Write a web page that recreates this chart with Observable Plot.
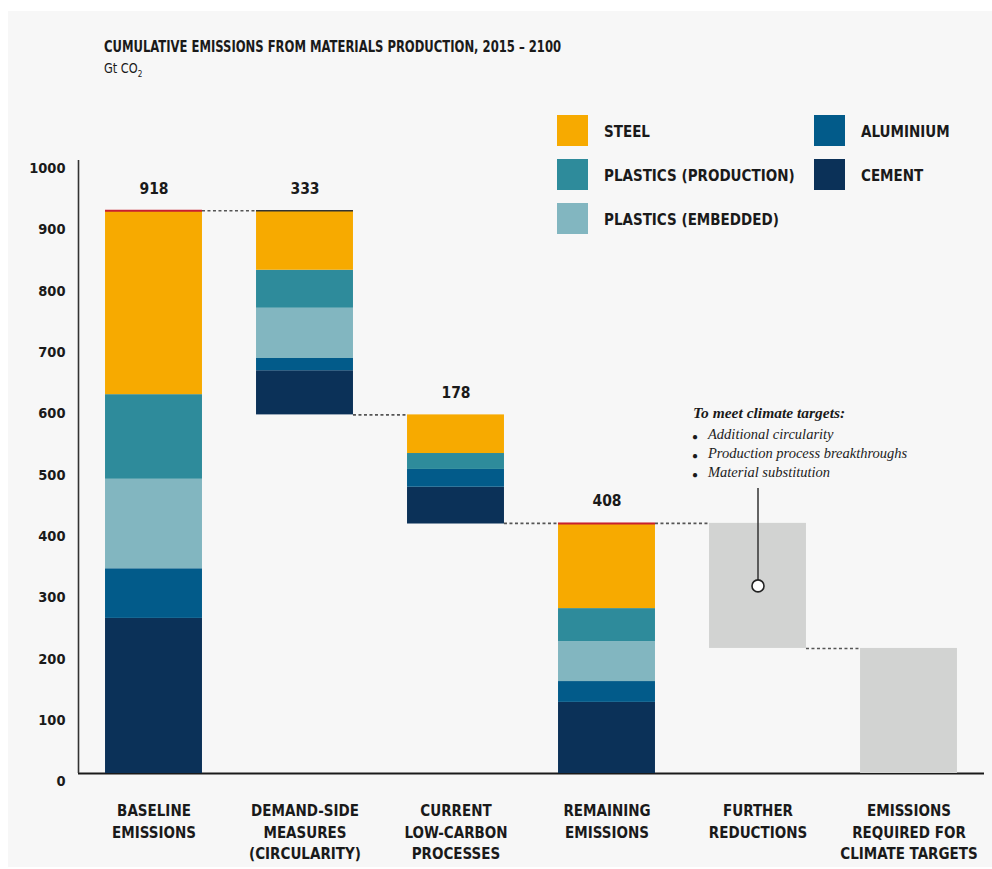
<!DOCTYPE html>
<html>
<head>
<meta charset="utf-8">
<script src="https://cdn.jsdelivr.net/npm/d3@7"></script>
<script src="https://cdn.jsdelivr.net/npm/@observablehq/plot@0.6"></script>
<style>
  body { margin: 0; background: #ffffff; }
  #wrap { position: relative; width: 992px; height: 869px; overflow: hidden;
    font-family: "Liberation Sans Narrow", "DejaVu Sans Condensed", "Roboto Condensed", sans-serif; font-stretch: condensed; color: #1a1a1a; }
  #panel { position: absolute; left: 8px; top: 11px; width: 984px; height: 856px; background: #f7f7f7; }
  #title { position: absolute; left: 104px; top: 38px; font-weight: bold; font-size: 15px; white-space: nowrap; transform: scaleX(0.86); transform-origin: 0 0; }
  #subtitle { position: absolute; left: 104px; top: 60px; font-size: 14px; white-space: nowrap; transform: scaleX(0.9); transform-origin: 0 0; }
  #subtitle sub { font-size: 9px; }
  #chart { position: absolute; left: 0; top: 90px; }
  #legend { position: absolute; left: 557px; top: 115px; display: grid; grid-template-rows: repeat(3, 44px);
    grid-auto-flow: column; grid-template-columns: 257px auto; }
  .item { display: flex; align-items: flex-start; }
  .sw { width: 31px; height: 31px; flex: none; }
  .lab { margin-left: 16px; padding-top: 2px; font-weight: bold; font-size: 15px; line-height: 31px; white-space: nowrap; }
</style>
</head>
<body>
<div id="wrap">
  <div id="panel"></div>
  <div id="title">CUMULATIVE EMISSIONS FROM MATERIALS PRODUCTION, 2015 – 2100</div>
  <div id="subtitle">Gt CO<sub>2</sub></div>
  <div id="chart"></div>
  <div id="legend"></div>
</div>
<script>
// ---- data ----
const categories = ["BASELINE\nEMISSIONS", "DEMAND-SIDE\nMEASURES\n(CIRCULARITY)", "CURRENT\nLOW-CARBON\nPROCESSES", "REMAINING\nEMISSIONS", "FURTHER\nREDUCTIONS", "EMISSIONS\nREQUIRED FOR\nCLIMATE TARGETS"];
// stack order, bottom to top
const materials = ["CEMENT", "ALUMINIUM", "PLASTICS (EMBEDDED)", "PLASTICS (PRODUCTION)", "STEEL"];
const materialColors = ["#0b3158", "#025b8a", "#82b6c0", "#2e8b9b", "#f7aa00"];
const baselineValues = [253, 81, 146, 138, 300];     // total 918
const demandSideValues = [72, 20, 82, 62, 97];       // total 333 (reduction)
const lowCarbonValues = [60, 29, 0, 26, 63];         // total 178 (reduction)
const remainingValues = [116, 34, 65, 54, 139];      // total 408
const barTotals = [918, 333, 178, 408];
const furtherReductions = 204;
const requiredEmissions = 204;
const yTicks = [0, 100, 200, 300, 400, 500, 600, 700, 800, 900, 1000];
const annotationTitle = "To meet climate targets:";
const annotationItems = ["Additional circularity", "Production process breakthroughs", "Material substitution"];
const annotationLeaderTop = 465;

// ---- derived ----
const baselineTotal = d3.sum(baselineValues);
const demandBase = baselineTotal - d3.sum(demandSideValues);
const lowCarbonBase = demandBase - d3.sum(lowCarbonValues);
const remainingTotal = d3.sum(remainingValues);
const requiredTop = remainingTotal - furtherReductions;

const stackedBars = [
  {i: 0, base: 0, values: baselineValues},
  {i: 1, base: demandBase, values: demandSideValues},
  {i: 2, base: lowCarbonBase, values: lowCarbonValues},
  {i: 3, base: 0, values: remainingValues}
];
const segments = [];
for (const b of stackedBars) {
  let acc = b.base;
  b.values.forEach((v, k) => {
    if (v > 0) segments.push({i: b.i, y1: acc, y2: acc + v, material: materials[k]});
    acc += v;
  });
}
const greyBars = [
  {i: 4, y1: requiredTop, y2: remainingTotal},
  {i: 5, y1: 0, y2: requiredEmissions}
];
const half = 0.321;
const connectors = [
  {from: 0, y: baselineTotal},
  {from: 1, y: demandBase},
  {from: 2, y: remainingTotal},
  {from: 3, y: remainingTotal},
  {from: 4, y: requiredTop}
];
const totalLabels = [
  {i: 0, y: baselineTotal, t: barTotals[0]},
  {i: 1, y: baselineTotal, t: barTotals[1]},
  {i: 2, y: demandBase, t: barTotals[2]},
  {i: 3, y: remainingTotal, t: barTotals[3]}
];
const mid = (requiredTop + remainingTotal) / 2;
const font = '"Liberation Sans Narrow", "DejaVu Sans Condensed", "Roboto Condensed", sans-serif';
const serif = '"Liberation Serif", "DejaVu Serif", serif';

const chart = Plot.plot({
  width: 992,
  height: 778,
  marginLeft: 78,
  marginRight: 8,
  marginTop: 70,
  marginBottom: 95,
  style: {background: "transparent", fontFamily: font, color: "#1a1a1a"},
  x: {domain: [-0.5, 5.5], axis: null},
  y: {domain: [0, 1000], axis: null},
  color: {domain: materials, range: materialColors},
  marks: [
    Plot.ruleY([0], {stroke: "#1a1a1a", strokeWidth: 1.8}),
    Plot.ruleX([-0.5], {y1: 0, y2: 1000, stroke: "#333", strokeWidth: 1.6}),
    Plot.axisY({ticks: yTicks, tickFormat: d => String(d), tickSize: 0, tickPadding: 13, dy: 8, fontSize: 14.5, fontWeight: "bold", label: null}),
    Plot.rectY(segments, {x1: d => d.i - half, x2: d => d.i + half, y1: "y1", y2: "y2", fill: "material"}),
    Plot.rectY(greyBars, {x1: d => d.i - half, x2: d => d.i + half, y1: "y1", y2: "y2", fill: "#d2d3d2"}),
    Plot.ruleY(connectors, {x1: d => d.from + half, x2: d => d.from + 1 - half, y: "y", stroke: "#555", strokeWidth: 1.6, strokeDasharray: "3,2.5"}),
    Plot.ruleY([{i: 0, y: baselineTotal}, {i: 3, y: remainingTotal}], {x1: d => d.i - half, x2: d => d.i + half, y: "y", stroke: "#c8202f", strokeWidth: 2}),
    Plot.ruleY([{i: 1, y: baselineTotal}], {x1: d => d.i - half, x2: d => d.i + half, y: "y", stroke: "#333", strokeWidth: 1.6}),
    Plot.text(totalLabels, {x: "i", y: "y", text: "t", dy: -22, fontSize: 15.5, fontWeight: "bold", fill: "#1a1a1a"}),
    Plot.text(categories, {x: (d, i) => i, y: () => 0, text: d => d, lineAnchor: "top", dy: 27, lineHeight: 1.45, fontSize: 15, fontWeight: "bold", fill: "#1a1a1a"}),
    // annotation
    Plot.ruleX([4], {y1: mid, y2: annotationLeaderTop, stroke: "#333", strokeWidth: 1.5}),
    Plot.dot([4], {x: d => d, y: () => mid, r: 6, fill: "white", stroke: "#222", strokeWidth: 1.6}),
    Plot.text([annotationTitle], {x: () => 4, y: () => remainingTotal, text: d => d, dx: -65, dy: -110, textAnchor: "start", fontFamily: serif, fontStyle: "italic", fontWeight: "bold", fontSize: 15.5, fill: "#1a1a1a"}),
    Plot.text([annotationItems.map(() => "●").join("\n")], {x: () => 4, y: () => remainingTotal, text: d => d, dx: -66, dy: -97, lineAnchor: "top", lineHeight: 1.9, textAnchor: "start", fontFamily: serif, fontSize: 10, fill: "#1a1a1a"}),
    Plot.text([annotationItems.join("\n")], {x: () => 4, y: () => remainingTotal, text: d => d, dx: -50, dy: -98, lineAnchor: "top", lineHeight: 1.32, textAnchor: "start", fontFamily: serif, fontStyle: "italic", fontSize: 14.5, fill: "#222"})
  ]
});
document.getElementById("chart").appendChild(chart);

// legend
const legendOrder = [4, 3, 2, 1, 0];
const legend = document.getElementById("legend");
for (const k of legendOrder) {
  const item = document.createElement("div");
  item.className = "item";
  const sw = document.createElement("div");
  sw.className = "sw";
  sw.style.background = materialColors[k];
  const lab = document.createElement("div");
  lab.className = "lab";
  lab.textContent = materials[k];
  item.appendChild(sw);
  item.appendChild(lab);
  legend.appendChild(item);
}
</script>
</body>
</html>
